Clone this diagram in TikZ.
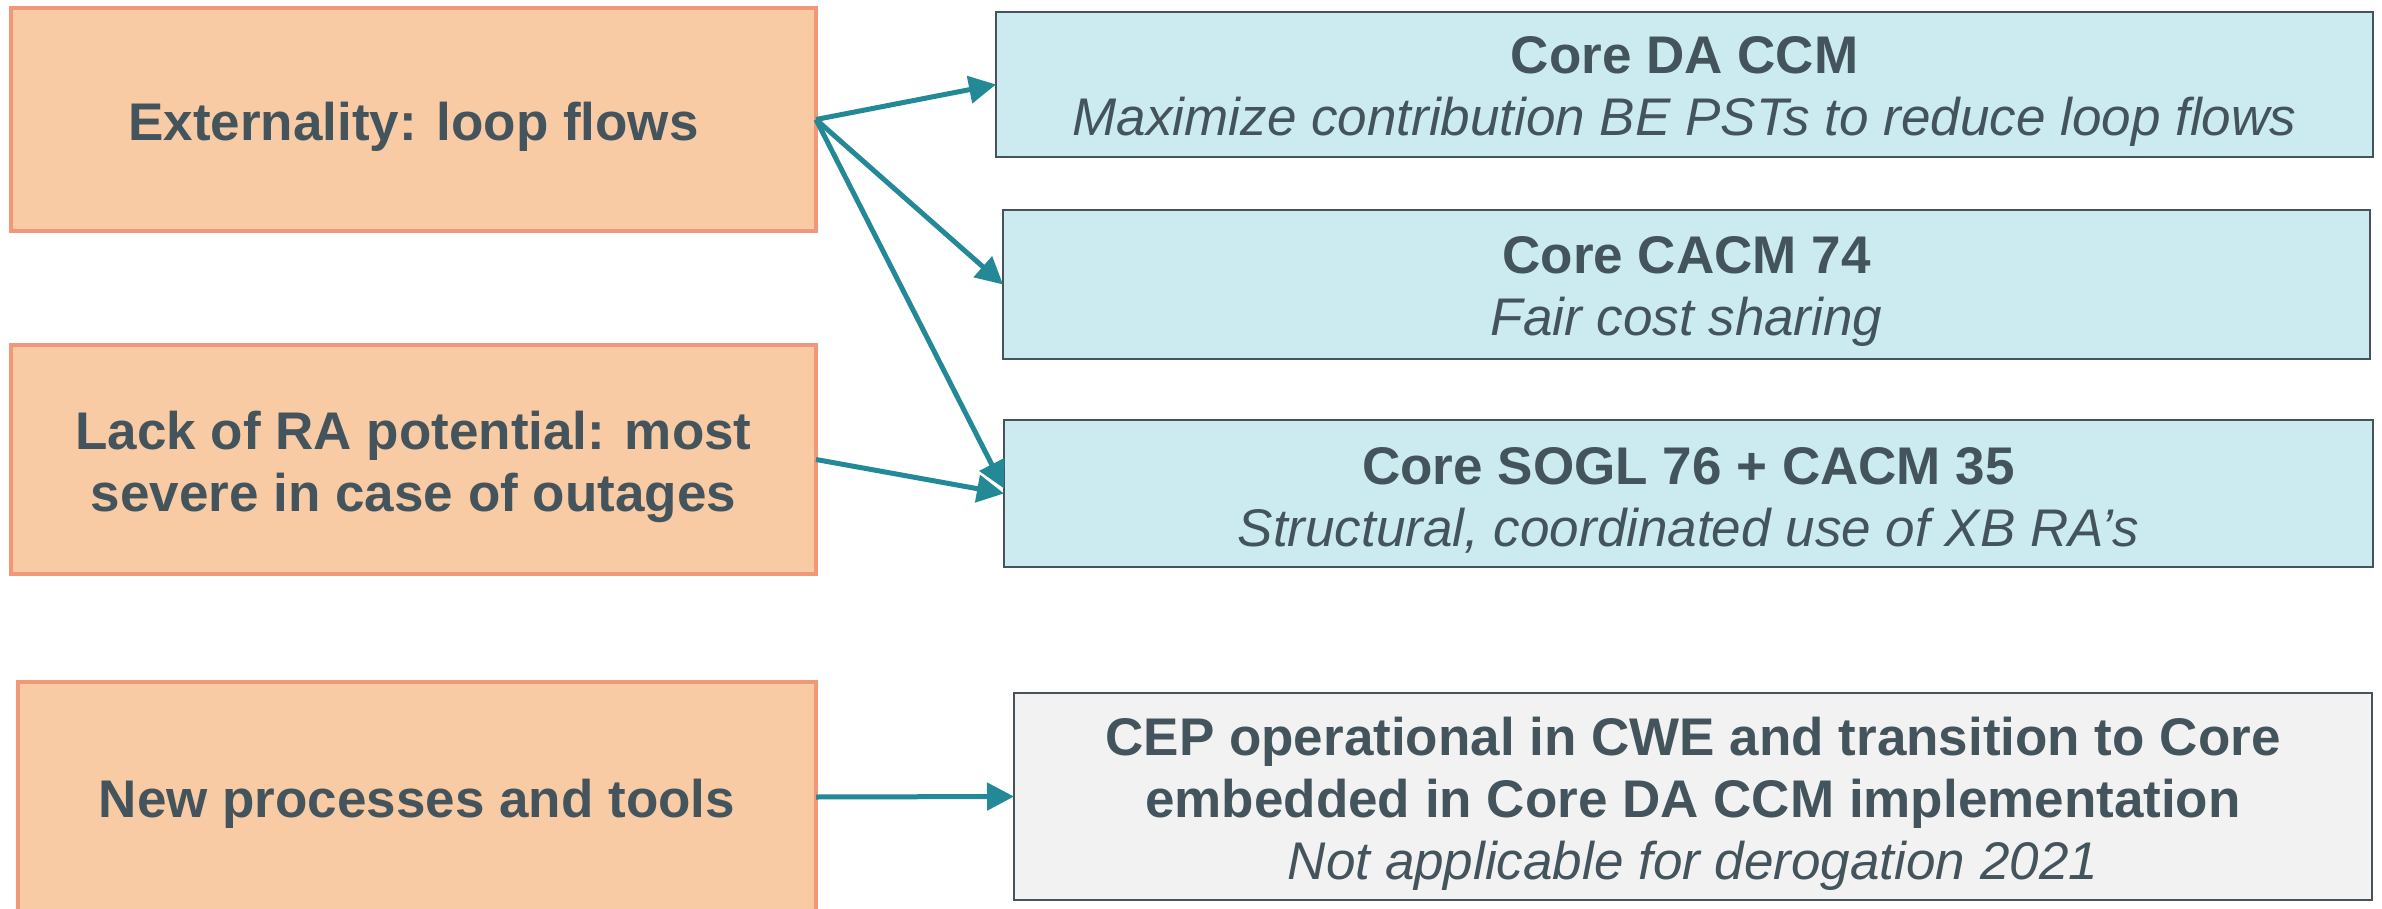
\documentclass[tikz,border=0pt]{standalone}
\usepackage{fontspec}
\setmainfont{Liberation Sans}
\usetikzlibrary{arrows.meta}

\definecolor{peach}{RGB}{248,203,165}
\definecolor{peachline}{RGB}{241,152,120}
\definecolor{paleblue}{RGB}{203,235,240}
\definecolor{boxline}{RGB}{72,82,90}
\definecolor{palegrey}{RGB}{242,242,242}
\definecolor{tealline}{RGB}{36,137,150}
\definecolor{ink}{RGB}{68,84,92}

\tikzset{
  basebox/.style={rectangle, anchor=north west, inner sep=0pt, outer sep=0pt},
  cause/.style={basebox, draw=peachline, fill=peach, line width=4pt},
  measure/.style={basebox, draw=boxline, fill=paleblue, line width=2pt},
  pending/.style={basebox, draw=boxline, fill=palegrey, line width=2pt},
  boxtext/.style={inner sep=0pt, text=ink, align=center, font=\fontsize{53}{62}\selectfont},
  causetext/.style={boxtext, font=\fontsize{53}{62}\selectfont\bfseries},
  link/.style={draw=tealline, line width=5pt, -{Triangle[length=27pt,width=27pt]}}
}

\begin{document}
\begin{tikzpicture}[x=1pt,y=-1pt]
  \useasboundingbox (0,0) rectangle (2382,909);

  % causes (left column)
  \node[cause, minimum width=805pt, minimum height=223pt] (A) at (11,8) {};
  \node[cause, minimum width=805pt, minimum height=229pt] (B) at (11,345) {};
  \node[cause, minimum width=798pt, minimum height=230pt] (C) at (18,682) {};

  \node[causetext] (At) at ([yshift=-7pt]A.center) {Externality: loop flows};
  \node[causetext] (Bt) at ([yshift=-7pt]B.center) {Lack of RA potential: most\\severe in case of outages};
  \node[causetext] (Ct) at ([yshift=-7pt]C.center) {New processes and tools};

  % measures (right column)
  \node[measure, minimum width=1377pt, minimum height=145pt] (R1) at (996,12) {};
  \node[measure, minimum width=1367pt, minimum height=149pt] (R2) at (1003,210) {};
  \node[measure, minimum width=1369pt, minimum height=147pt] (R3) at (1004,420) {};
  \node[pending, minimum width=1358pt, minimum height=207pt] (R4) at (1014,693) {};

  \node[boxtext] (R1t) at ([yshift=-7pt]R1.center)
    {\textbf{Core DA CCM}\\\textit{Maximize contribution BE PSTs to reduce loop flows}};
  \node[boxtext] (R2t) at ([yshift=-7pt]R2.center)
    {\textbf{Core CACM 74}\\\textit{Fair cost sharing}};
  \node[boxtext] (R3t) at ([yshift=-7pt]R3.center)
    {\textbf{Core SOGL 76 + CACM 35}\\\textit{Structural, coordinated use of XB RA’s}};
  \node[boxtext] (R4t) at ([yshift=-7pt]R4.center)
    {\textbf{CEP operational in CWE and transition to Core}\\
     \textbf{embedded in Core DA CCM implementation}\\
     \textit{Not applicable for derogation 2021}};

  % connectors
  \draw[link] (A.east) -- (R1.west);
  \draw[link] (A.east) -- (R2.west);
  \draw[link] (A.east) -- ([yshift=5pt]R3.west);
  \draw[link] (B.east) -- (R3.west);
  \draw[link] (C.east) -- (R4.west);
\end{tikzpicture}
\end{document}
